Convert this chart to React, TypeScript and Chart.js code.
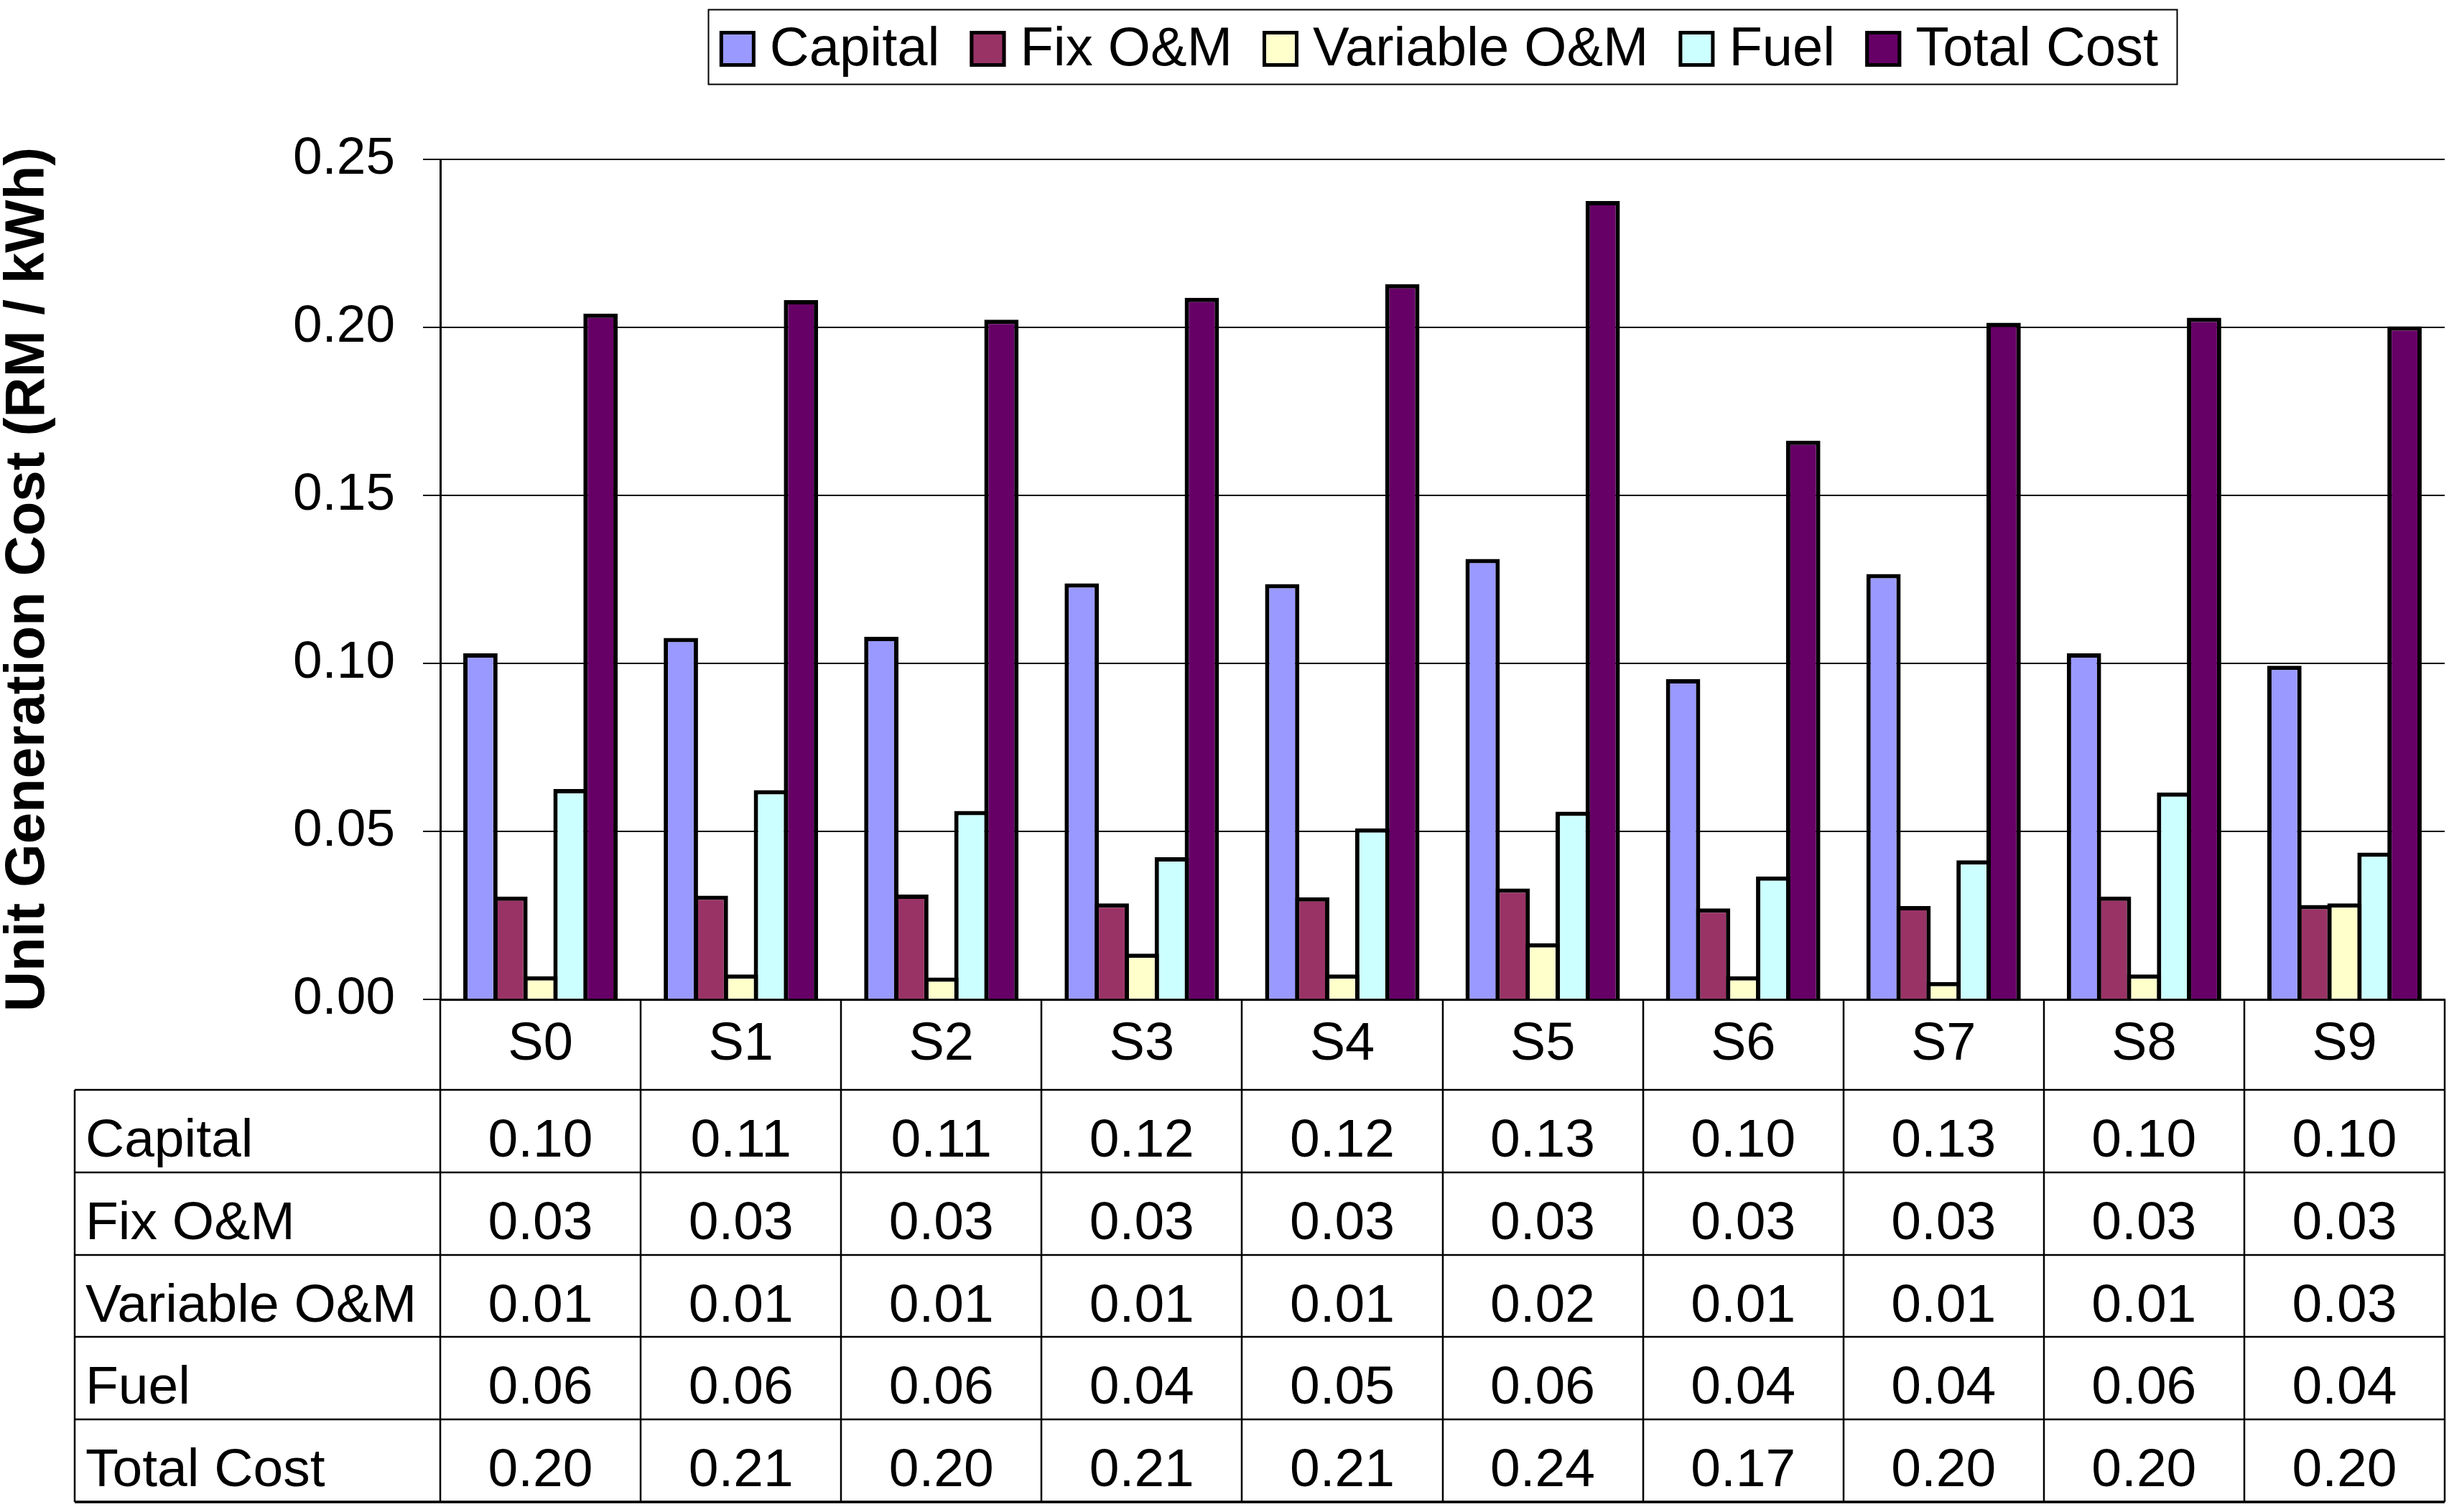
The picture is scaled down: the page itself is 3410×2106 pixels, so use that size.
import React, { useEffect, useRef } from "react";
import { Chart, registerables } from "chart.js";

Chart.register(...registerables);

const FONT = '"Liberation Sans", Arial, sans-serif';

const categories = ["S0", "S1", "S2", "S3", "S4", "S5", "S6", "S7", "S8", "S9"];
const seriesNames = ["Capital", "Fix O&M", "Variable O&M", "Fuel", "Total Cost"];
const seriesColors = ["#9999FF", "#993366", "#FFFFCC", "#CCFFFF", "#660066"];

const capital = [0.103, 0.1076, 0.1079, 0.1238, 0.1236, 0.1311, 0.0953, 0.1266, 0.103, 0.0993];
const fixOM = [0.0306, 0.0309, 0.0312, 0.0286, 0.0304, 0.033, 0.0271, 0.0278, 0.0306, 0.0281];
const variableOM = [0.0069, 0.0074, 0.0065, 0.0136, 0.0074, 0.0167, 0.0069, 0.0052, 0.0074, 0.0286];
const fuel = [0.0626, 0.0623, 0.0561, 0.0423, 0.0509, 0.0559, 0.0366, 0.0414, 0.0616, 0.0437];
const totalCost = [0.2041, 0.2081, 0.2023, 0.2088, 0.2129, 0.2376, 0.1663, 0.2014, 0.2029, 0.2003];

const yMin = 0;
const yMax = 0.25;
const yStep = 0.05;
const yTitle = "Unit Generation Cost (RM / kWh)";

const W = 3410;
const H = 2106;
const TABLE_LEFT = 104;
const TABLE_BOTTOM_MARGIN = 14;

const legendPlugin = {
  id: "boxedLegend",
  afterDraw(chart: any) {
    const { ctx, chartArea } = chart;
    const ds = chart.data.datasets;
    ctx.save();
    ctx.font = `76px ${FONT}`;
    const sw = 50;
    const gapST = 20;
    const gapItem = 42;
    const padL = 16;
    const padR = 26;
    const widths = ds.map((d: any) => ctx.measureText(d.label).width);
    let total = padL + padR;
    widths.forEach((w: number, i: number) => {
      total += sw + gapST + w + (i > 0 ? gapItem : 0);
    });
    const cx = (chartArea.left + chartArea.right) / 2;
    const left = cx - total / 2;
    const top = 13;
    const bottom = 117;
    ctx.strokeStyle = "#000";
    ctx.lineWidth = 2;
    ctx.strokeRect(Math.round(left) + 0.5, top + 0.5, Math.round(total), bottom - top);
    const cy = 68;
    let x = left + padL;
    ds.forEach((d: any, i: number) => {
      ctx.fillStyle = d.backgroundColor;
      ctx.fillRect(x, cy - sw / 2, sw, sw);
      ctx.lineWidth = 5;
      ctx.strokeStyle = "#000";
      ctx.strokeRect(x + 2.5, cy - sw / 2 + 2.5, sw - 5, sw - 5);
      x += sw + gapST;
      ctx.fillStyle = "#000";
      ctx.textAlign = "left";
      ctx.textBaseline = "middle";
      ctx.fillText(d.label, x, cy + 2);
      x += widths[i] + gapItem;
    });
    ctx.restore();
  },
};

const tablePlugin = {
  id: "dataTable",
  afterDraw(chart: any) {
    const { ctx, chartArea } = chart;
    const xs = chart.scales.x;
    const ds = chart.data.datasets;
    const n = chart.data.labels.length;
    const colW = (xs.right - xs.left) / n;
    const headTop = chartArea.bottom;
    const headBottom = xs.bottom;
    const tableBottom = chart.height - TABLE_BOTTOM_MARGIN;
    const rowH = (tableBottom - headBottom) / ds.length;
    ctx.save();
    ctx.strokeStyle = "#000";
    ctx.lineWidth = 2.5;
    ctx.beginPath();
    for (let i = 0; i <= n; i++) {
      const x = Math.round(xs.left + i * colW);
      ctx.moveTo(x, headTop);
      ctx.lineTo(x, tableBottom);
    }
    ctx.moveTo(TABLE_LEFT, headBottom);
    ctx.lineTo(TABLE_LEFT, tableBottom);
    for (let r = 0; r <= ds.length; r++) {
      const y = Math.round(headBottom + r * rowH);
      ctx.moveTo(TABLE_LEFT, y);
      ctx.lineTo(xs.right, y);
    }
    ctx.stroke();
    ctx.lineWidth = 3.5;
    ctx.beginPath();
    ctx.moveTo(TABLE_LEFT, tableBottom);
    ctx.lineTo(xs.right, tableBottom);
    ctx.stroke();

    ctx.font = `75px ${FONT}`;
    ctx.fillStyle = "#000";
    ctx.textBaseline = "middle";
    ds.forEach((d: any, r: number) => {
      const cy = headBottom + r * rowH + rowH / 2 + 15;
      ctx.textAlign = "left";
      ctx.fillText(d.label, TABLE_LEFT + 15, cy);
      ctx.textAlign = "center";
      d.data.forEach((v: number, i: number) => {
        ctx.fillText(v.toFixed(2), xs.getPixelForValue(i), cy);
      });
    });
    ctx.restore();
  },
};

export default function App() {
  const ref = useRef<HTMLCanvasElement>(null);

  useEffect(() => {
    if (!ref.current) return;
    const seriesValues = [capital, fixOM, variableOM, fuel, totalCost];
    const chart = new Chart(ref.current, {
      type: "bar",
      data: {
        labels: categories,
        datasets: seriesNames.map((name, i) => ({
          label: name,
          data: seriesValues[i],
          backgroundColor: seriesColors[i],
          borderColor: "#000000",
          borderWidth: 6,
          barPercentage: 1.143,
          categoryPercentage: 0.749,
        })),
      },
      options: {
        animation: false,
        responsive: false,
        devicePixelRatio: 1,
        layout: {
          padding: { top: 222, right: 6, bottom: 588, left: 0 },
        },
        plugins: {
          legend: { display: false },
          tooltip: { enabled: false },
          title: { display: false },
        },
        scales: {
          x: {
            type: "category",
            grid: { display: false, drawTicks: false },
            border: { display: true, color: "#000", width: 3 },
            ticks: {
              color: "#000",
              font: { family: FONT, size: 74 },
              padding: 19,
              autoSkip: false,
              maxRotation: 0,
              minRotation: 0,
            },
            afterFit(scale: any) {
              scale.height = 126;
            },
          },
          y: {
            type: "linear",
            min: yMin,
            max: yMax,
            ticks: {
              stepSize: yStep,
              color: "#000",
              font: { family: FONT, size: 73 },
              padding: 39,
              callback: (v: any) => Number(v).toFixed(2),
            },
            grid: {
              color: "#000",
              lineWidth: 2,
              tickLength: 24,
              drawTicks: true,
            },
            border: { display: true, color: "#000", width: 3 },
            title: {
              display: true,
              text: yTitle,
              color: "#000",
              font: { family: FONT, size: 78, weight: "bold", lineHeight: 1 },
              padding: 0,
            },
            afterFit(scale: any) {
              scale.width = 613;
            },
          },
        },
      },
      plugins: [legendPlugin, tablePlugin],
    } as any);
    return () => chart.destroy();
  }, []);

  return (
    <div style={{ position: "fixed", left: 0, top: 0, width: W, height: H, background: "#fff" }}>
      <canvas ref={ref} width={W} height={H} style={{ width: W, height: H, display: "block" }} />
    </div>
  );
}
